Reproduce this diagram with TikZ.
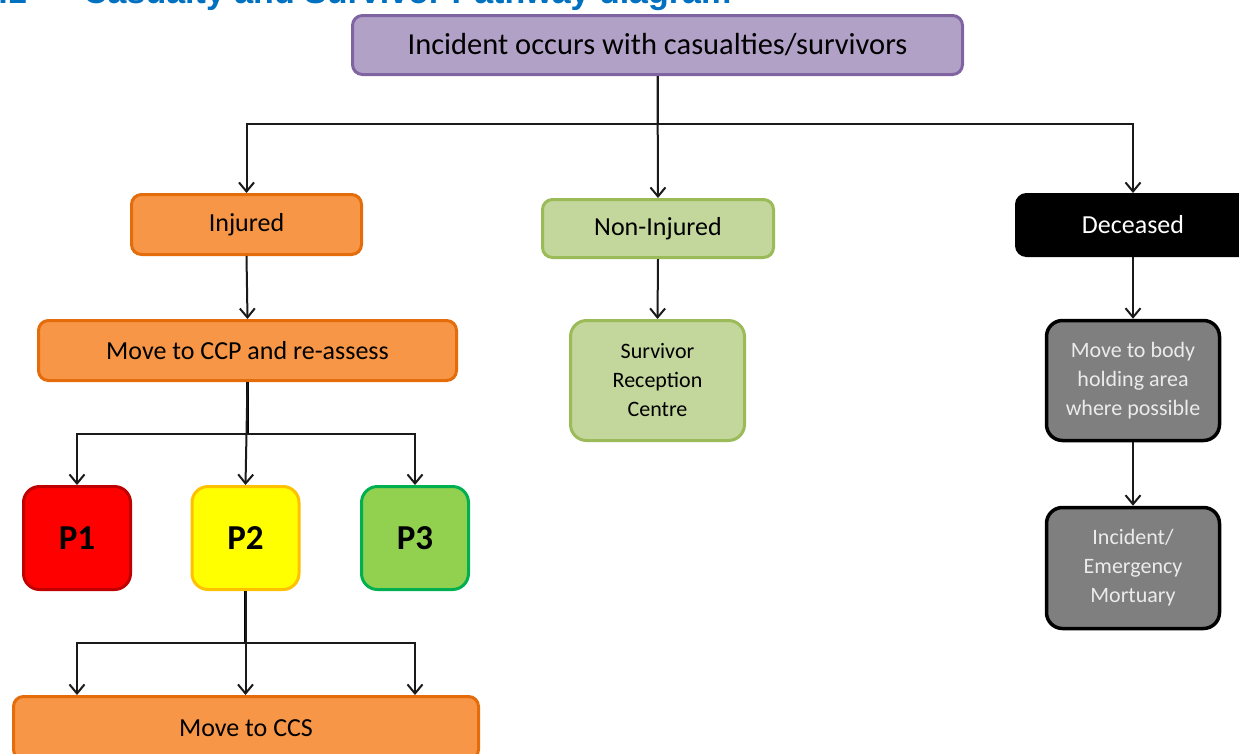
\documentclass[tikz,border=0pt]{standalone}
\usepackage{fontspec}
\setmainfont{Carlito}
\newfontfamily\titlefont{Liberation Sans}
\usetikzlibrary{arrows.meta}
\definecolor{purplefill}{HTML}{B2A1C7}
\definecolor{purpleline}{HTML}{8064A2}
\definecolor{orangefill}{HTML}{F79646}
\definecolor{orangeline}{HTML}{E46C0A}
\definecolor{greenfill}{HTML}{C3D69B}
\definecolor{greenline}{HTML}{9BBB59}
\definecolor{grayfill}{HTML}{7F7F7F}
\definecolor{ponefill}{HTML}{FF0000}
\definecolor{poneline}{HTML}{C00000}
\definecolor{ptwofill}{HTML}{FFFF00}
\definecolor{ptwoline}{HTML}{FFC000}
\definecolor{pthreefill}{HTML}{92D050}
\definecolor{pthreeline}{HTML}{00B050}
\definecolor{titleblue}{HTML}{0070C0}
\definecolor{linegray}{HTML}{1A1A1A}
\tikzset{
  box/.style={rectangle, rounded corners=10pt, line width=3pt, align=center, inner sep=2pt,
    font=\fontsize{26}{30}\selectfont},
  smallbox/.style={box, rounded corners=16pt, font=\fontsize{22}{29}\selectfont},
  orangebox/.style={box, fill=orangefill, draw=orangeline},
  greenbox/.style={box, fill=greenfill, draw=greenline},
  graybox/.style={smallbox, fill=grayfill, draw=black, line width=3.5pt, text=white!92!black},
  pbox/.style={box, rounded corners=16pt, font=\bfseries\fontsize{35}{36}\selectfont,
    minimum width=107pt, minimum height=103pt},
  ln/.style={draw=linegray, line width=2pt},
  trunk/.style={draw=black, line width=3.2pt},
  arr/.style={ln, -{Straight Barb[length=9pt,width=15pt,line width=2pt]}},
}
\begin{document}
\begin{tikzpicture}[x=1pt,y=-1pt]
\useasboundingbox (0,0) rectangle (1239,753);
\clip (0,0) rectangle (1239,753);
% title (cut off at the top, as in the reference)
\node[anchor=base east, inner sep=0, text=titleblue, font=\titlefont\bfseries\fontsize{34}{36}\selectfont] (tnum) at (27,3) {6.1};
\node[anchor=base west, inner sep=0, text=titleblue, font=\titlefont\bfseries\fontsize{34}{36}\selectfont] (title) at (83,3) {Casualty and Survivor Pathway diagram};
% boxes
\node[box, fill=purplefill, draw=purpleline, minimum width=610pt, minimum height=59pt,
  font=\fontsize{30.5}{32}\selectfont] (top) at (657.5,45) {Incident occurs with casualties/survivors};
\node[orangebox, minimum width=230pt, minimum height=60pt] (inj) at (246.5,224.5) {Injured};
\node[greenbox, minimum width=231pt, minimum height=58pt] (non) at (658,228.5) {Non-Injured};
\node[box, fill=black, draw=black, text=white, minimum width=233pt, minimum height=61pt] (dec) at (1133,225) {Deceased};
\node[orangebox, minimum width=418pt, minimum height=60pt] (ccp) at (247.5,350.5) {Move to CCP and re-assess};
\node[smallbox, fill=greenfill, draw=greenline, minimum width=174pt, minimum height=120pt] (src) at (657.5,380.5) {Survivor\\Reception\\Centre};
\node[graybox, minimum width=173pt, minimum height=120pt] (body) at (1133,380.5) {Move to body\\holding area\\where possible};
\node[graybox, minimum width=173pt, minimum height=121pt] (mort) at (1133,568) {Incident/\\Emergency\\Mortuary};
\node[pbox, fill=ponefill, draw=poneline] (p1) at (77,538) {P1};
\node[pbox, fill=ptwofill, draw=ptwoline] (p2) at (245.5,538) {P2};
\node[pbox, fill=pthreefill, draw=pthreeline] (p3) at (415,538) {P3};
\node[orangebox, minimum width=465pt, minimum height=63pt] (ccs) at (246,728) {Move to CCS};
% bus coordinates
\coordinate (bus1) at (0,124);
\coordinate (bus2) at (0,434);
\coordinate (bus3) at (0,643);
% connectors from top
\draw[ln] (top.south) -- (top.south |- bus1);
\draw[arr] (top.south |- bus1) -| (inj.north);
\draw[arr] (top.south |- bus1) -| (dec.north);
\draw[arr] (top.south) -- (non.north);
% column connectors
\draw[arr] (inj.south) -- (ccp.north);
\draw[arr] (non.south) -- (src.north);
\draw[arr] (dec.south) -- (body.north);
\draw[arr] (body.south) -- (mort.north);
% CCP to priorities
\draw[trunk] (ccp.south) -- (ccp.south |- bus2);
\draw[arr] (ccp.south |- bus2) -| (p1.north);
\draw[arr] (ccp.south |- bus2) -| (p3.north);
\draw[arr] (ccp.south) -- (p2.north);
% P2 to CCS
\draw[trunk] (p2.south) -- (p2.south |- bus3);
\draw[arr] (p2.south |- bus3) -| (p1 |- ccs.north);
\draw[arr] (p2.south |- bus3) -| (p3 |- ccs.north);
\draw[arr] (p2.south) -- (p2 |- ccs.north);
\end{tikzpicture}
\end{document}
